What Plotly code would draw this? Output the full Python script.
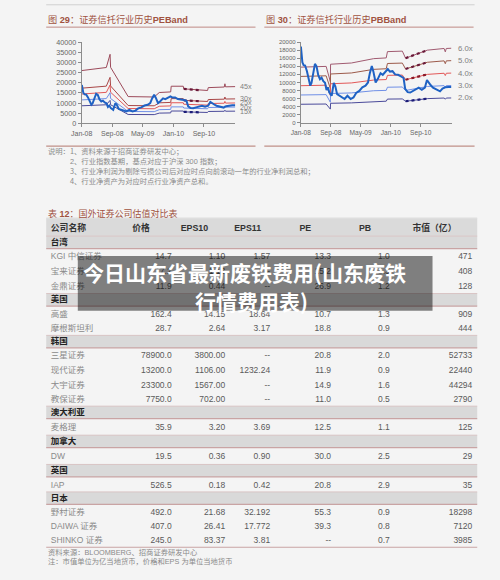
import plotly.graph_objects as go

W, H = 500, 580

# ---------------- chart data ----------------
index_dates = [
    "2008-01-02", "2008-01-07", "2008-01-14", "2008-01-24", "2008-02-05", "2008-02-20",
    "2008-03-05", "2008-03-18", "2008-03-28", "2008-04-10", "2008-04-25", "2008-05-08",
    "2008-05-22", "2008-06-05", "2008-06-18", "2008-07-02", "2008-07-16", "2008-07-28",
    "2008-08-08", "2008-08-20", "2008-09-08", "2008-09-25", "2008-10-08", "2008-10-22",
    "2008-11-12", "2008-12-03", "2008-12-22", "2009-01-14", "2009-02-09", "2009-03-04",
    "2009-03-26", "2009-04-20", "2009-05-15", "2009-06-10", "2009-06-30", "2009-07-15",
    "2009-07-31", "2009-08-12", "2009-08-31", "2009-09-18", "2009-10-10", "2009-10-28",
    "2009-11-18", "2009-12-08", "2009-12-25", "2010-01-15", "2010-02-05", "2010-03-01",
    "2010-03-25", "2010-04-15", "2010-04-28", "2010-05-18", "2010-06-08", "2010-06-30",
    "2010-07-22", "2010-08-16", "2010-09-10", "2010-10-05", "2010-10-22", "2010-11-05",
    "2010-11-22", "2010-12-10", "2011-01-05", "2011-02-05", "2011-02-25", "2011-03-20",
    "2011-04-15", "2011-05-08",
]
index_values = [
    18900, 17400, 15000, 14300, 14200, 12800,
    10600, 9200, 9900, 12600, 14600, 14000,
    11800, 10800, 11200, 10300, 9900, 8100,
    8800, 7500, 6700, 9900, 9000, 7100,
    6700, 6300, 5900, 6700, 5900, 6300,
    7400, 7900, 8800, 9200, 10000, 12300,
    14100, 12800, 10000, 10900, 12300, 11900,
    12600, 13300, 12700, 12800, 12000, 11900,
    11500, 11100, 8400, 7600, 7500, 7900,
    8100, 8700, 8200, 8700, 10600, 9900,
    9300, 8700, 8300, 7800, 8500, 8800,
    8900, 8900,
]

pe_band_dates = [
    "2008-01-02", "2008-07-15", "2008-08-14", "2008-08-18", "2009-01-05", "2009-08-01",
    "2009-09-10", "2009-12-10", "2009-12-14", "2010-03-20", "2010-03-24", "2010-07-25",
    "2010-09-30", "2010-10-05", "2011-02-10", "2011-02-15", "2011-02-20", "2011-05-08",
]
pe_45x = [26000, 27500, 34000, 27600, 13200, 13000, 15200, 15500, 18300, 18300, 17000, 16400,
          16200, 17600, 17900, 19500, 18000, 18100]
pe_30x = [17340, 18330, 22670, 18400, 8800, 8670, 10130, 10330, 12200, 12200, 11330, 10930,
          10800, 11730, 11930, 13000, 12000, 12070]
pe_25x = [14450, 15280, 18890, 15330, 7330, 7220, 8440, 8610, 10170, 10170, 9440, 9110,
          9000, 9780, 9940, 10830, 10000, 10060]
pe_20x = [11560, 12220, 15110, 12270, 5870, 5780, 6760, 6890, 8130, 8130, 7560, 7290,
          7200, 7820, 7960, 8670, 8000, 8040]
pe_15x = [8670, 9170, 11330, 9200, 4400, 4330, 5070, 5170, 6100, 6100, 5670, 5470,
          5400, 5870, 5970, 6500, 6000, 6030]
pe_band_labels = ["45x", "30x", "25x", "20x", "15x"]

pb_band_dates = [
    "2008-01-02", "2008-07-25", "2008-08-28", "2008-08-30", "2009-02-15", "2009-08-15",
    "2009-11-25", "2009-12-05", "2010-04-05", "2010-04-20", "2010-05-01", "2010-10-25",
    "2011-03-10", "2011-03-20", "2011-03-28", "2011-05-08",
]
pb_6x = [13800, 13980, 10200, 14520, 14820, 15900, 16080, 17640, 17760, 16800, 16020, 18000,
         18420, 17580, 18420, 18480]
pb_5x = [11500, 11650, 8500, 12100, 12350, 13250, 13400, 14700, 14800, 14000, 13350, 15000,
         15350, 14650, 15350, 15400]
pb_4x = [9200, 9320, 6800, 9680, 9880, 10600, 10720, 11760, 11840, 11200, 10680, 12000,
         12280, 11720, 12280, 12320]
pb_3x = [6900, 6990, 5100, 7260, 7410, 7950, 8040, 8820, 8880, 8400, 8010, 9000,
         9210, 8790, 9210, 9240]
pb_2x = [4600, 4660, 3400, 4840, 4940, 5300, 5360, 5880, 5920, 5600, 5340, 6000,
         6140, 5860, 6140, 6160]
pb_band_labels = ["6.0x", "5.0x", "4.0x", "3.0x", "2.0x"]

x_tick_dates = ["2008-01-01", "2008-09-01", "2009-05-01", "2010-01-01", "2010-09-01"]
x_tick_labels = ["Jan-08", "Sep-08", "May-09", "Jan-10", "Sep-10"]
pe_y_ticks = [0, 5000, 10000, 15000, 20000, 25000, 30000, 35000, 40000]
pb_y_ticks = [0, 2000, 4000, 6000, 8000, 10000, 12000, 14000, 16000, 18000, 20000]

# ---------------- table data ----------------
table_columns = ["公司名称", "价格", "EPS10", "EPS11", "PE", "PB", "市值（亿）"]
table_groups = ["台湾", "美国", "韩国", "澳大利亚", "加拿大", "英国", "日本"]
company_names = ["KGI 中信证券", "宝来证券", "金鼎证券", "高盛", "摩根斯坦利",
                 "三星证券", "现代证券", "大宇证券", "教保证券", "麦格理", "DW", "IAP",
                 "野村证券", "DAIWA 证券", "SHINKO 证券"]
company_group = [0, 0, 0, 1, 1, 2, 2, 2, 2, 3, 4, 5, 6, 6, 6]
price = ["14.7", "17.2", "11.9", "162.4", "28.7", "78900.0", "13200.0", "23300.0", "7750.0",
         "35.9", "19.5", "526.5", "492.0", "407.0", "245.0"]
eps10 = ["1.10", "1.13", "0.44", "14.15", "2.64", "3800.00", "1106.00", "1567.00", "702.00",
         "3.20", "0.36", "0.18", "21.68", "26.41", "83.37"]
eps11 = ["1.57", "--", "--", "18.64", "3.17", "--", "1232.24", "--", "--",
         "3.69", "0.90", "0.42", "32.192", "17.772", "3.81"]
pe_ratio = ["13.3", "15.2", "26.9", "10.7", "18.8", "20.8", "11.9", "14.9", "11.0",
            "12.5", "30.0", "20.8", "55.3", "39.3", "--"]
pb_ratio = ["1.0", "1.3", "1.2", "1.3", "0.9", "2.0", "0.9", "1.6", "0.5",
            "1.1", "2.5", "2.9", "0.9", "0.8", "0.7"]
market_cap = ["471", "408", "128", "909", "444", "52733", "22440", "44294", "2790",
              "125", "29", "35", "18298", "7120", "3985"]

notes = ["说明：1、资料来源于招商证券研发中心；",
         "2、行业指数基期，基点对应于沪深 300 指数；",
         "3、行业净利润为剔除亏损公司后对应时点向前滚动一年的行业净利润总和；",
         "4、行业净资产为对应时点行业净资产总和。"]
footer = ["资料来源：BLOOMBERG、招商证券研发中心",
          "注：市值单位为亿当地货币，价格和EPS 为单位当地货币"]
overlay_lines = ["今日山东省最新废铁费用(山东废铁", "行情费用表)"]

# ---------------- styling / layout ----------------
LATIN = "Liberation Sans, Arial, sans-serif"
CJK = "Noto Sans CJK SC, Liberation Sans, sans-serif"
MIX = "Liberation Sans, Noto Sans CJK SC, sans-serif"
BG = "#f4f4f4"
TITLE_C = "#a0523f"
RANGE = ["2008-01-01", "2011-05-10"]


def py(y):
    return 1 - y / H


fig = go.Figure()


def add_line(xs, ys, color, width, xa, ya, dash="solid"):
    fig.add_trace(go.Scatter(x=xs, y=ys, mode="lines",
                             line=dict(color=color, width=width, dash=dash),
                             xaxis=xa, yaxis=ya, hoverinfo="skip", showlegend=False))


# chart 1: PE band
pe_bands = [pe_45x, pe_30x, pe_25x, pe_20x, pe_15x]
pe_colors = ["#9c4a5a", "#a84646", "#e25858", "#6f8fe6", "#4a4a9a"]
for vals, col in zip(pe_bands, pe_colors):
    add_line(pe_band_dates, vals, col, 1, "x", "y")
hl = slice(10, 12)
for vals, col in [(pe_45x, "#6a1838"), (pe_30x, "#6a1838"), (pe_15x, "#1c1c78")]:
    add_line(pe_band_dates[hl], vals[hl], col, 2.2, "x", "y", dash="dot")
add_line(index_dates, index_values, "#1f62c4", 2, "x", "y")

# chart 2: PB band
pb_bands = [pb_6x, pb_5x, pb_4x, pb_3x, pb_2x]
pb_colors = ["#a05a70", "#9c5a4a", "#e25858", "#6f8fe6", "#4a4a9a"]
for vals, col in zip(pb_bands, pb_colors):
    add_line(pb_band_dates, vals, col, 1, "x2", "y2")
hl2 = slice(10, 12)
for vals, col in [(pb_6x, "#6a1838"), (pb_5x, "#6a1838"), (pb_4x, "#8a1828"), (pb_2x, "#1c1c78")]:
    add_line(pb_band_dates[hl2], vals[hl2], col, 2.2, "x2", "y2", dash="dot")
add_line(index_dates, index_values, "#1f62c4", 2, "x2", "y2")

annotations = []
for lab, vals in zip(pe_band_labels, pe_bands):
    annotations.append(dict(x=pe_band_dates[-1], y=vals[-1], xref="x", yref="y", text=lab,
                            showarrow=False, xanchor="left", xshift=3,
                            font=dict(family=LATIN, size=7.2, color="#808080")))
for lab, vals in zip(pb_band_labels, pb_bands):
    annotations.append(dict(x=pb_band_dates[-1], y=vals[-1], xref="x2", yref="y2", text=lab,
                            showarrow=False, xanchor="left", xshift=5,
                            font=dict(family=LATIN, size=7.8, color="#808080")))

# ---------------- table ----------------
NAME_X = 40.7
COL_RIGHT = [164.3, 219.0, 265.0, 327.3, 387.3, 471.7]
HDR_X = [40.7, 133.0, 187.5, 242.0, 301.0, 362.0, 433.0]
HDR_TOP, HDR_BOT = 217.3, 235.8
GROUP_H = 12.7
ROW_H = [15.2, 14.9, 14.8, 16.8, 17.0, 15.2, 14.5]
TBL_L, TBL_R = 36.0, 476.7

group_y, group_bands, company_y = [], [], []
yy = HDR_BOT
ci = 0
for gi, g in enumerate(table_groups):
    group_bands.append((yy, yy + GROUP_H))
    group_y.append(yy + GROUP_H / 2 + 0.3)
    yy += GROUP_H
    while ci < len(company_names) and company_group[ci] == gi:
        company_y.append(yy + ROW_H[gi] / 2 + 1.2)
        yy += ROW_H[gi]
        ci += 1
table_bottom = yy

shapes = []
shapes.append(dict(type="rect", xref="x3", yref="y3", x0=TBL_L, x1=TBL_R, y0=HDR_TOP, y1=HDR_BOT,
                   fillcolor="#dadada", line=dict(width=0), layer="below"))
for (a, b) in group_bands:
    shapes.append(dict(type="rect", xref="x3", yref="y3", x0=TBL_L, x1=TBL_R, y0=a, y1=b,
                       fillcolor="#d9d9d9", line=dict(width=0), layer="below"))
    shapes.append(dict(type="line", xref="x3", yref="y3", x0=TBL_L, x1=TBL_R, y0=b, y1=b,
                       line=dict(color="#c9a4a4", width=1.2), layer="below"))
    shapes.append(dict(type="line", xref="x3", yref="y3", x0=TBL_L, x1=TBL_R, y0=a, y1=a,
                       line=dict(color="#d8c4c4", width=1), layer="below"))
shapes.append(dict(type="line", xref="x3", yref="y3", x0=TBL_L, x1=TBL_R, y0=HDR_TOP, y1=HDR_TOP,
                   line=dict(color="#e2e2e2", width=1), layer="below"))
shapes.append(dict(type="line", xref="x3", yref="y3", x0=TBL_L, x1=TBL_R,
                   y0=table_bottom, y1=table_bottom,
                   line=dict(color="#c9a4a4", width=1.2), layer="below"))

# table header
fig.add_trace(go.Scatter(
    x=HDR_X, y=[228.0] * len(table_columns), mode="text",
    text=["<b>%s</b>" % c for c in table_columns],
    textposition=["middle right"] + ["middle center"] * 6,
    textfont=dict(family=MIX, size=8.8, color="#333333"),
    xaxis="x3", yaxis="y3", hoverinfo="skip", showlegend=False))
# group rows
fig.add_trace(go.Scatter(
    x=[NAME_X] * len(table_groups), y=group_y, mode="text",
    text=["<b>%s</b>" % g for g in table_groups], textposition="middle right",
    textfont=dict(family=CJK, size=8.5, color="#222222"),
    xaxis="x3", yaxis="y3", hoverinfo="skip", showlegend=False))
# company names
fig.add_trace(go.Scatter(
    x=[NAME_X] * len(company_names), y=company_y, mode="text",
    text=company_names, textposition="middle right",
    textfont=dict(family=MIX, size=8.5, color="#8a8a8a"),
    xaxis="x3", yaxis="y3", hoverinfo="skip", showlegend=False))
# numeric columns
for xr, col in zip(COL_RIGHT, [price, eps10, eps11, pe_ratio, pb_ratio, market_cap]):
    fig.add_trace(go.Scatter(
        x=[xr] * len(col), y=company_y, mode="text", text=col, textposition="middle left",
        textfont=dict(family=LATIN, size=8.5, color="#5a5a5a"),
        xaxis="x3", yaxis="y3", hoverinfo="skip", showlegend=False))

# ---------------- page decorations ----------------
def hline(x0, x1, y, color, width):
    shapes.append(dict(type="line", xref="x3", yref="y3", x0=x0, x1=x1, y0=y, y1=y,
                       line=dict(color=color, width=width), layer="below"))


hline(36, 474, 0.8, "#d0d0d0", 1)
hline(36, 250, 23.5, "#bf8a84", 1)
hline(259, 473, 23.5, "#bf8a84", 1)
hline(36, 250, 144.3, "#c09088", 1.2)
hline(259, 474, 144.3, "#c09088", 1.2)

# overlay box
shapes.append(dict(type="rect", xref="x3", yref="y3", x0=68.3, x1=431, y0=256, y1=311.5,
                   fillcolor="rgba(0,0,0,0.48)", line=dict(width=0), layer="above"))


def text(x, y, s, size, color, family=CJK, xanchor="left"):
    annotations.append(dict(x=x, y=y, xref="x3", yref="y3", text=s, showarrow=False,
                            xanchor=xanchor, yanchor="middle",
                            font=dict(family=family, size=size, color=color)))


text(36, 15.5, "图 <b>29</b>：证券信托行业历史<b>PEBand</b>", 9.2, TITLE_C, MIX)
text(259, 15.5, "图 <b>30</b>：证券信托行业历史<b>PBBand</b>", 9.2, TITLE_C, MIX)
text(36, 149.5, notes[0], 7.3, "#8a8a8a")
text(58, 159.8, notes[1], 7.3, "#8a8a8a", MIX)
text(58, 169.5, notes[2], 7.3, "#8a8a8a")
text(58, 179.3, notes[3], 7.3, "#8a8a8a")
text(36, 212.3, "表 <b>12</b>：国外证券公司估值对比表", 9, TITLE_C, MIX)
text(36, 556.7, footer[0], 7.3, "#8a8a8a", MIX)
text(36, 566.7, footer[1], 7.3, "#8a8a8a", MIX)
text(238.3, 272.0, "<b>%s</b>" % overlay_lines[0], 21, "#ffffff", CJK, "center")
text(246.0, 301.5, "<b>%s</b>" % overlay_lines[1], 21, "#ffffff", CJK, "center")

axis_common = dict(showline=True, linecolor="#8c8c8c", linewidth=1, ticks="outside",
                   ticklen=3, tickcolor="#8c8c8c", showgrid=False, zeroline=False,
                   fixedrange=True)

fig.update_layout(
    width=W, height=H, margin=dict(l=0, r=0, t=0, b=0),
    paper_bgcolor=BG, plot_bgcolor="rgba(0,0,0,0)", hovermode=False, showlegend=False,
    xaxis=dict(domain=[72.3 / W, 229.5 / W], anchor="y", type="date", range=RANGE,
               tickvals=x_tick_dates, ticktext=x_tick_labels,
               tickfont=dict(family=LATIN, size=7, color="#666666"), **axis_common),
    yaxis=dict(domain=[py(121.3), py(38.7)], anchor="x", range=[0, 40000],
               tickvals=pe_y_ticks, ticktext=[str(v) for v in pe_y_ticks],
               tickfont=dict(family=LATIN, size=7.2, color="#666666"), **axis_common),
    xaxis2=dict(domain=[296.3 / W, 450.5 / W], anchor="y2", type="date", range=RANGE,
                tickvals=x_tick_dates, ticktext=x_tick_labels,
                tickfont=dict(family=LATIN, size=6.6, color="#666666"), **axis_common),
    yaxis2=dict(domain=[py(120.7), py(38.7)], anchor="x2", range=[0, 20000],
                tickvals=pb_y_ticks, ticktext=[str(v) for v in pb_y_ticks],
                tickfont=dict(family=LATIN, size=6, color="#666666"), **axis_common),
    xaxis3=dict(domain=[0, 1], anchor="y3", range=[0, W], visible=False, fixedrange=True),
    yaxis3=dict(domain=[0, 1], anchor="x3", range=[H, 0], visible=False, fixedrange=True),
    shapes=shapes, annotations=annotations,
)

fig.write_html(
    "out.html",
    config={"displayModeBar": False, "staticPlot": True},
    post_script=("document.body.style.margin='0';document.body.style.padding='0';"
                 "document.body.style.overflow='hidden';"
                 "document.body.style.background='%s';" % BG),
)
